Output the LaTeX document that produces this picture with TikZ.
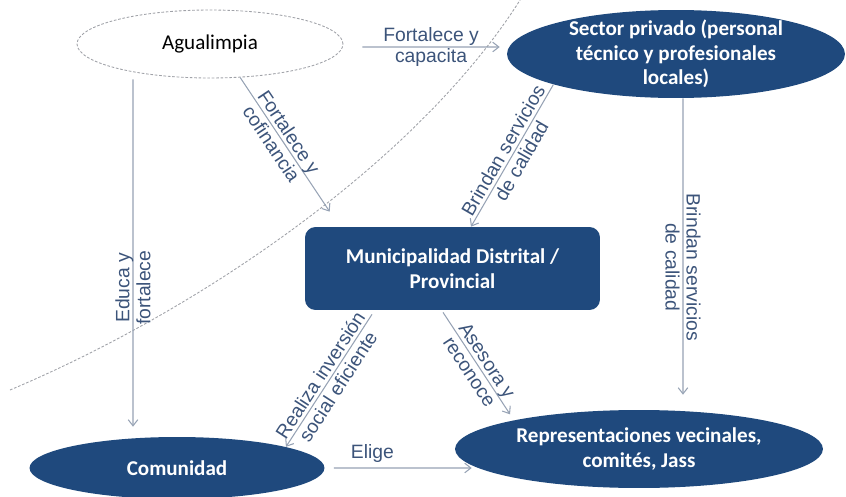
\documentclass[tikz,border=0pt]{standalone}
\usepackage{fontspec}
\setmainfont{Carlito}
\newfontfamily\lblfont{Liberation Sans}
\usetikzlibrary{arrows.meta,shapes,calc}
\definecolor{azul}{RGB}{31,73,125}
\definecolor{linea}{RGB}{150,162,180}
\definecolor{etiq}{RGB}{60,84,122}
\definecolor{punteado}{RGB}{160,162,168}

\tikzset{
  nodoazul/.style={ellipse,fill=azul,inner sep=0pt},
  textoblanco/.style={text=white,font=\fontsize{12}{14}\selectfont\bfseries,align=center},
  flecha/.style={->,draw=linea,line width=0.6pt},
  etiqueta/.style={text=etiq,font=\lblfont\fontsize{11}{12}\selectfont,align=center,inner sep=1pt},
  frontera/.style={draw=punteado,line width=0.5pt,dash pattern=on 1.5pt off 1pt},
}

\begin{document}
\begin{tikzpicture}[x=0.02cm,y=-0.02cm,>={Straight Barb[length=3.5pt,width=5.5pt]}]
    \useasboundingbox (0,0) rectangle (846,497);
    \draw[frontera] (10,390) .. controls (200,310) and (420,160) .. (522,-3);

    \node[ellipse,frontera,minimum width=5.32cm,minimum height=1.36cm,inner sep=0pt,font=\fontsize{12}{14}\selectfont] (agua) at (210,44) {Agualimpia};
    \node[nodoazul,minimum width=6.76cm,minimum height=1.76cm,label={[textoblanco]center:{Sector privado (personal\\técnico y profesionales\\locales)}}] (sector) at (676,54) {};
    \node[fill=azul,rounded corners=6pt,minimum width=5.9cm,minimum height=1.66cm,textoblanco] (muni) at (452.5,268.5) {Municipalidad Distrital /\\Provincial};
    \node[nodoazul,minimum width=5.9cm,minimum height=1.24cm,label={[textoblanco]center:{Comunidad}}] (comun) at (177,468) {};
    \node[nodoazul,minimum width=7.36cm,minimum height=1.56cm,label={[textoblanco]center:{Representaciones vecinales,\\comités, Jass}}] (repr) at (639,449) {};

    \draw[flecha] ([xshift=0.38cm,yshift=-0.06cm]agua.east) -- node[etiqueta] {Fortalece y\\capacita} ([xshift=-0.14cm,yshift=0.14cm]sector.west);
    \draw[flecha] (agua.-48) -- node[etiqueta,sloped,pos=0.45] {Fortalece y\\cofinancia} ([xshift=0.5cm,yshift=0.3cm]muni.north west);
    \draw[flecha] (sector.194) -- node[etiqueta,sloped] {Brindan servicios\\de calidad} ([xshift=0.37cm]muni.north);
    \draw[flecha] ([xshift=0.14cm]sector.south) -- node[etiqueta,rotate=-90,pos=0.57] {Brindan servicios\\de calidad} ([xshift=0.88cm,yshift=0.3cm]repr.north);
    \draw[flecha] ([xshift=-1.54cm,yshift=-0.02cm]agua.south) -- node[etiqueta,rotate=90,pos=0.6] {Educa y\\fortalece} ([xshift=-0.88cm,yshift=0.2cm]comun.north);
    \draw[flecha] ([xshift=-1.61cm,yshift=-0.08cm]muni.south) -- node[etiqueta,sloped] {Realiza inversión\\social eficiente} (comun.11);
    \draw[flecha,shorten >=0.14cm] ([xshift=-0.19cm,yshift=-0.04cm]muni.south) -- node[etiqueta,sloped] {Asesora y\\reconoce} (repr.167);
    \draw[flecha] ([xshift=0.18cm]comun.east) -- node[etiqueta,above=2pt,pos=0.28] {Elige} ([xshift=0.34cm,yshift=-0.38cm]repr.west);
\end{tikzpicture}
\end{document}
